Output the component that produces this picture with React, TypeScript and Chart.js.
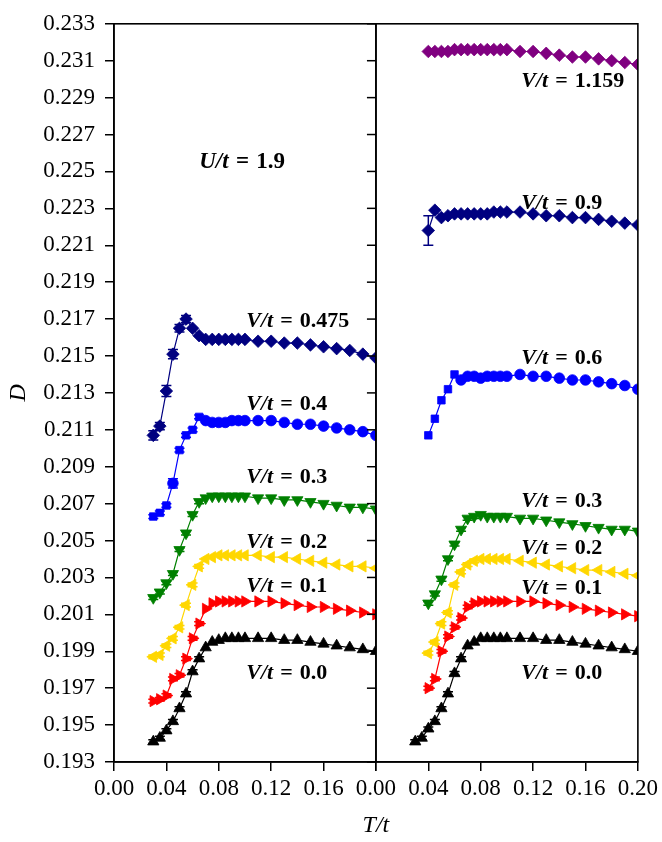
import React, { useEffect, useRef } from 'react';
import { Chart, registerables } from 'chart.js';

Chart.register(...registerables);

// ---------- data ----------
const T_DENSE = [0.03, 0.035, 0.04, 0.045, 0.05, 0.055, 0.06, 0.065, 0.07, 0.075, 0.08, 0.085, 0.09, 0.095, 0.1];
const T_SPARSE = [0.11, 0.12, 0.13, 0.14, 0.15, 0.16, 0.17, 0.18, 0.19, 0.2];
const T_ALL = [...T_DENSE, ...T_SPARSE];
const T_FROM_040 = T_ALL.slice(2);

const Y_TICKS = [0.193, 0.195, 0.197, 0.199, 0.201, 0.203, 0.205, 0.207, 0.209, 0.211, 0.213, 0.215, 0.217, 0.219, 0.221, 0.223, 0.225, 0.227, 0.229, 0.231, 0.233];
const X_TICKS = [0, 0.04, 0.08, 0.12, 0.16, 0.2];

// left panel (U/t = 1.9)
const L_V00 = [0.1941, 0.1943, 0.1947, 0.1952, 0.1959, 0.1967, 0.1979, 0.1986, 0.1992, 0.1995, 0.1996, 0.1997, 0.1997, 0.1997, 0.1997,
  0.1997, 0.1997, 0.1996, 0.1996, 0.1995, 0.1994, 0.1993, 0.1992, 0.1991, 0.1990];
const L_V01 = [0.1963, 0.1964, 0.1966, 0.1975, 0.1977, 0.1986, 0.1997, 0.2005, 0.2013, 0.2016, 0.2017, 0.2017, 0.2017, 0.2017, 0.2017,
  0.2017, 0.2017, 0.2016, 0.2015, 0.2014, 0.2014, 0.2013, 0.2012, 0.2011, 0.2010];
const L_V02 = [0.1987, 0.1988, 0.1993, 0.1997, 0.2003, 0.2015, 0.2026, 0.2036, 0.2040, 0.2041, 0.2042, 0.2042, 0.2042, 0.2042, 0.2042,
  0.2042, 0.2041, 0.2041, 0.2040, 0.2039, 0.2038, 0.2037, 0.2036, 0.2036, 0.2035];
const L_V03 = [0.2019, 0.2022, 0.2027, 0.2032, 0.2045, 0.2054, 0.2064, 0.2071, 0.2073, 0.2074, 0.2074, 0.2074, 0.2074, 0.2074, 0.2074,
  0.2073, 0.2073, 0.2072, 0.2072, 0.2071, 0.2070, 0.2069, 0.2068, 0.2068, 0.2067];
const L_V04 = [0.2063, 0.2065, 0.2069, 0.2081, 0.2099, 0.2107, 0.2110, 0.2117, 0.2115, 0.2114, 0.2114, 0.2114, 0.2115, 0.2115, 0.2115,
  0.2115, 0.2115, 0.2114, 0.2113, 0.2113, 0.2112, 0.2111, 0.2110, 0.2109, 0.2107];
const L_V0475 = [0.2107, 0.2112, 0.2131, 0.2151, 0.2165, 0.2170, 0.2165, 0.2161, 0.2159, 0.2159, 0.2159, 0.2159, 0.2159, 0.2159, 0.2159,
  0.2158, 0.2158, 0.2157, 0.2157, 0.2156, 0.2155, 0.2154, 0.2153, 0.2151, 0.2149];

// right panel
const R_V00 = [0.1941, 0.1943, 0.1948, 0.1952, 0.1959, 0.1967, 0.1978, 0.1986, 0.1993, 0.1995, 0.1997, 0.1997, 0.1997, 0.1997, 0.1997,
  0.1997, 0.1997, 0.1996, 0.1996, 0.1995, 0.1994, 0.1993, 0.1992, 0.1991, 0.1990];
const R_V01 = [0.1970, 0.1975, 0.1990, 0.1998, 0.2003, 0.2008, 0.2014, 0.2016, 0.2017, 0.2017, 0.2017, 0.2017, 0.2017,
  0.2017, 0.2017, 0.2016, 0.2015, 0.2014, 0.2013, 0.2012, 0.2011, 0.2010, 0.2009];
const R_V02 = [0.1989, 0.1995, 0.2005, 0.2011, 0.2026, 0.2033, 0.2037, 0.2039, 0.2040, 0.2040, 0.2040, 0.2040, 0.2040,
  0.2039, 0.2038, 0.2037, 0.2036, 0.2035, 0.2034, 0.2034, 0.2033, 0.2032, 0.2031];
const R_V03 = [0.2016, 0.2021, 0.2029, 0.2040, 0.2048, 0.2056, 0.2062, 0.2063, 0.2064, 0.2063, 0.2063, 0.2063, 0.2063,
  0.2062, 0.2062, 0.2061, 0.2060, 0.2059, 0.2058, 0.2057, 0.2056, 0.2056, 0.2055];
const R_V06 = [0.2107, 0.2116, 0.2126, 0.2132, 0.2140, 0.2137, 0.2139, 0.2139, 0.2138, 0.2139, 0.2139, 0.2139, 0.2139,
  0.2140, 0.2139, 0.2139, 0.2138, 0.2137, 0.2137, 0.2136, 0.2135, 0.2134, 0.2132];
const R_V09 = [0.2218, 0.2229, 0.2225, 0.2226, 0.2227, 0.2227, 0.2227, 0.2227, 0.2227, 0.2227, 0.2228, 0.2228, 0.2228,
  0.2228, 0.2227, 0.2226, 0.2226, 0.2225, 0.2225, 0.2224, 0.2223, 0.2222, 0.2221];
const R_V1159 = [0.2315, 0.2315, 0.2315, 0.2315, 0.2316, 0.2316, 0.2316, 0.2316, 0.2316, 0.2316, 0.2316, 0.2316, 0.2316,
  0.2315, 0.2315, 0.2314, 0.2313, 0.2312, 0.2312, 0.2311, 0.2310, 0.2309, 0.2308];

// error bars (low-T points only)
const ERR_SMALL = [0.0001, 0.0001, 0.0001, 0.0001, 0.0001, 0.0001, 0.0001, 0.0001];
const ERR_L_V04 = [0.0001, 0.0001, 0.0001, 0.00025, 0.0001, 0.0001, 0.0001, 0.0001];
const ERR_L_V0475 = [0.00025, 0.0002, 0.0003, 0.00025, 0.0002, 0.0002];
const ERR_R_V09 = [0.0008];

// marker styles for the two V/t = 0.4 / 0.6 series (squares at low T, circles above)
const L_V04_STYLE = T_ALL.map((t, i) => (i === 3 || t > 0.066 ? 'circle' : 'rect'));
const R_V06_STYLE = T_FROM_040.map((t) => (t > 0.061 ? 'circle' : 'rect'));

const LABELS_LEFT = [
  { v: '0.475', x: 0.101, y: 0.2169 },
  { v: '0.4', x: 0.101, y: 0.2124 },
  { v: '0.3', x: 0.101, y: 0.2084 },
  { v: '0.2', x: 0.101, y: 0.2049 },
  { v: '0.1', x: 0.101, y: 0.2025 },
  { v: '0.0', x: 0.101, y: 0.1978 },
];
const LABELS_RIGHT = [
  { v: '1.159', x: 0.111, y: 0.2299 },
  { v: '0.9', x: 0.111, y: 0.2233 },
  { v: '0.6', x: 0.111, y: 0.2149 },
  { v: '0.3', x: 0.111, y: 0.2071 },
  { v: '0.2', x: 0.111, y: 0.2046 },
  { v: '0.1', x: 0.111, y: 0.2024 },
  { v: '0.0', x: 0.111, y: 0.1978 },
];
const U_LABEL = { text: '1.9', x: 0.065, y: 0.2255 };

const NAVY = '#000080';
const BLUE = '#0000ff';
const GREEN = '#008000';
const GOLD = '#ffd700';
const RED = '#ff0000';
const BLACK = '#000000';
const PURPLE = '#800080';

const FONT = '"Liberation Serif", "Times New Roman", serif';

function makeSet(xAxisID, ts, vals, color, style, rotation, radius, errors) {
  return {
    xAxisID,
    yAxisID: 'y',
    data: ts.map((t, i) => ({ x: t, y: vals[i] })),
    showLine: true,
    borderColor: color,
    backgroundColor: color,
    borderWidth: 1.2,
    pointStyle: style,
    rotation,
    pointRadius: radius,
    pointBorderWidth: 0.8,
    pointBorderColor: color,
    pointBackgroundColor: color,
    errors,
  };
}

function drawMathLabel(ctx, x, y, italicPart, rest, size) {
  ctx.textBaseline = 'middle';
  ctx.textAlign = 'left';
  ctx.fillStyle = '#000';
  ctx.font = `italic bold ${size}px ${FONT}`;
  ctx.fillText(italicPart, x, y);
  let w = ctx.measureText(italicPart).width;
  ctx.font = `bold ${size}px ${FONT}`;
  const gap = size * 0.32;
  ctx.fillText('=', x + w + gap, y);
  w += gap + ctx.measureText('=').width + gap;
  ctx.fillText(rest, x + w, y);
}

const panelPlugin = {
  id: 'panels',
  beforeDatasetDraw(chart, args) {
    const ctx = chart.ctx;
    const meta = args.meta;
    const xs = meta.xScale;
    const ys = meta.yScale;
    const ca = chart.chartArea;
    ctx.save();
    ctx.beginPath();
    ctx.rect(xs.left, ca.top, xs.right - xs.left, ca.bottom - ca.top);
    ctx.clip();
    const ds = chart.data.datasets[args.index];
    const errs = ds.errors;
    if (errs) {
      ctx.strokeStyle = ds.borderColor;
      ctx.lineWidth = 1.5;
      ds.data.forEach((p, i) => {
        const e = errs[i];
        if (!e) return;
        const x = xs.getPixelForValue(p.x);
        const y1 = ys.getPixelForValue(p.y - e);
        const y2 = ys.getPixelForValue(p.y + e);
        ctx.beginPath();
        ctx.moveTo(x, y1);
        ctx.lineTo(x, y2);
        ctx.moveTo(x - 5, y1);
        ctx.lineTo(x + 5, y1);
        ctx.moveTo(x - 5, y2);
        ctx.lineTo(x + 5, y2);
        ctx.stroke();
      });
    }
  },
  afterDatasetDraw(chart) {
    chart.ctx.restore();
  },
  afterDraw(chart) {
    const ctx = chart.ctx;
    const ca = chart.chartArea;
    const x1 = chart.scales.x1;
    const x2 = chart.scales.x2;
    const y = chart.scales.y;
    ctx.save();
    ctx.strokeStyle = '#000';
    ctx.lineWidth = 1.6;
    ctx.strokeRect(x1.left, ca.top, x1.right - x1.left, ca.bottom - ca.top);
    ctx.strokeRect(x2.left, ca.top, x2.right - x2.left, ca.bottom - ca.top);
    // right panel's own y ticks (outward, into left panel)
    ctx.lineWidth = 1.5;
    Y_TICKS.forEach((v) => {
      const py = y.getPixelForValue(v);
      ctx.beginPath();
      ctx.moveTo(x2.left - 9, py);
      ctx.lineTo(x2.left, py);
      ctx.stroke();
    });
    // annotations
    LABELS_LEFT.forEach((l) => {
      drawMathLabel(ctx, x1.getPixelForValue(l.x), y.getPixelForValue(l.y), 'V/t', l.v, 22);
    });
    LABELS_RIGHT.forEach((l) => {
      drawMathLabel(ctx, x2.getPixelForValue(l.x), y.getPixelForValue(l.y), 'V/t', l.v, 22);
    });
    drawMathLabel(ctx, x1.getPixelForValue(U_LABEL.x), y.getPixelForValue(U_LABEL.y), 'U/t', U_LABEL.text, 23);
    // x axis title
    ctx.font = `italic 24px ${FONT}`;
    ctx.fillStyle = '#000';
    ctx.textAlign = 'center';
    ctx.textBaseline = 'middle';
    ctx.fillText('T/t', x1.right, 826);
    ctx.restore();
  },
};

function xAxis(hideLast) {
  return {
    type: 'linear',
    position: 'bottom',
    stack: 'x',
    stackWeight: 1,
    min: 0,
    max: 0.2,
    afterBuildTicks: (s) => {
      s.ticks = X_TICKS.map((v) => ({ value: v }));
    },
    afterFit: (s) => {
      s.height = 80;
    },
    ticks: {
      autoSkip: false,
      maxRotation: 0,
      padding: 4,
      color: '#000',
      font: { family: FONT, size: 23 },
      callback: (v) => (hideLast && v > 0.199 ? '' : Number(v).toFixed(2)),
    },
    grid: { drawOnChartArea: false, drawTicks: true, tickLength: 9, color: '#000', lineWidth: 1.5 },
    border: { display: true, color: '#000', width: 1.5 },
  };
}

export default function App() {
  const ref = useRef(null);
  useEffect(() => {
    const datasets = [
      makeSet('x1', T_ALL, L_V00, BLACK, 'triangle', 0, 6.5, ERR_SMALL),
      makeSet('x1', T_ALL, L_V01, RED, 'triangle', 90, 6.5, ERR_SMALL),
      makeSet('x1', T_ALL, L_V02, GOLD, 'triangle', 270, 6.5, ERR_SMALL),
      makeSet('x1', T_ALL, L_V03, GREEN, 'triangle', 180, 6.5, ERR_SMALL),
      makeSet('x1', T_ALL, L_V04, BLUE, L_V04_STYLE, 0, 5.3, ERR_L_V04),
      makeSet('x1', T_ALL, L_V0475, NAVY, 'rectRot', 0, 6.3, ERR_L_V0475),
      makeSet('x2', T_ALL, R_V00, BLACK, 'triangle', 0, 6.5, ERR_SMALL),
      makeSet('x2', T_FROM_040, R_V01, RED, 'triangle', 90, 6.5, ERR_SMALL),
      makeSet('x2', T_FROM_040, R_V02, GOLD, 'triangle', 270, 6.5, ERR_SMALL),
      makeSet('x2', T_FROM_040, R_V03, GREEN, 'triangle', 180, 6.5, ERR_SMALL),
      makeSet('x2', T_FROM_040, R_V06, BLUE, R_V06_STYLE, 0, 5.3, null),
      makeSet('x2', T_FROM_040, R_V09, NAVY, 'rectRot', 0, 6.3, ERR_R_V09),
      makeSet('x2', T_FROM_040, R_V1159, PURPLE, 'rectRot', 0, 6.3, null),
    ];
    const chart = new Chart(ref.current, {
      type: 'scatter',
      data: { datasets },
      plugins: [panelPlugin],
      options: {
        responsive: false,
        animation: false,
        layout: { padding: { left: 0, top: 17, right: 22, bottom: 0 } },
        plugins: { legend: { display: false }, tooltip: { enabled: false } },
        scales: {
          x1: xAxis(true),
          x2: xAxis(false),
          y: {
            type: 'linear',
            position: 'left',
            min: 0.193,
            max: 0.233,
            afterBuildTicks: (s) => {
              s.ticks = Y_TICKS.map((v) => ({ value: v }));
            },
            afterFit: (s) => {
              s.width = 114;
            },
            ticks: {
              autoSkip: false,
              padding: 10,
              color: '#000',
              font: { family: FONT, size: 23 },
              callback: (v) => Number(v).toFixed(3),
            },
            grid: { drawOnChartArea: false, drawTicks: true, tickLength: 9, color: '#000', lineWidth: 1.5 },
            border: { display: true, color: '#000', width: 1.5 },
            title: {
              display: true,
              text: 'D',
              color: '#000',
              font: { family: FONT, size: 24, style: 'italic' },
              padding: { top: 4, bottom: 0 },
            },
          },
        },
      },
    });
    return () => chart.destroy();
  }, []);
  return (
    <div style={{ position: 'absolute', left: 0, top: 0, width: 662, height: 842 }}>
      <canvas ref={ref} width={662} height={842} style={{ display: 'block' }} />
    </div>
  );
}
